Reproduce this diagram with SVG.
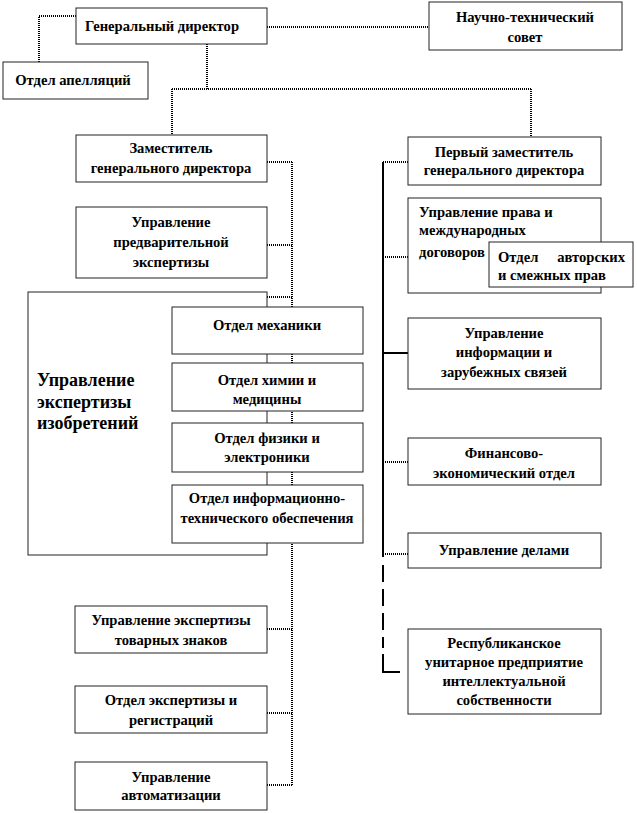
<svg xmlns="http://www.w3.org/2000/svg" width="637" height="813" viewBox="0 0 637 813">
<style>
.box{fill:#fff;stroke:#222;stroke-width:1}
.t{font-family:"Liberation Serif","Times New Roman",serif;font-weight:bold;font-size:14.6px;fill:#000;text-anchor:middle}
.tl{text-anchor:start}
.te{text-anchor:end}
.big{font-size:18px;text-anchor:start}
.dot{fill:none;stroke:#000;stroke-width:2;stroke-dasharray:1 1}
.sol{fill:none;stroke:#000;stroke-width:2}
.dash{fill:none;stroke:#000;stroke-width:2;stroke-dasharray:17 7}
</style>
<rect width="637" height="813" fill="#fff"/>
<g id="connectors">
<path class="dot" d="M76 16H39V62"/>
<path class="dot" d="M267 27H429"/>
<path class="dot" d="M207 44V89M172 89H531M172 89V135M531 89V137"/>
<path class="dot" d="M292 162V785M267 162H292M267 245H292M267 297H292M267 629H292M267 713H292M267 785H292"/>
<path class="sol" d="M383 162V557M383 353H408"/>
<path class="dot" d="M383 162H408M383 257H408M383 462H408M383 554H408"/>
<path class="dash" d="M383 565V648"/>
<path class="sol" d="M383 654V672H400"/>
</g>
<g id="nodes" font-family="Liberation Serif, Times New Roman, serif">
<g id="gen-director"><rect class="box" x="76" y="8" width="191" height="36"/><text class="t" x="162" y="31">Генеральный директор</text></g>
<g id="otdel-apellyaciy"><rect class="box" x="3" y="62" width="145" height="37"/><text class="t" x="73" y="85">Отдел апелляций</text></g>
<g id="nts"><rect class="box" x="429" y="2" width="193" height="48"/><text class="t" x="525" y="22">Научно-технический</text><text class="t" x="525" y="42">совет</text></g>
<g id="zamestitel"><rect class="box" x="76" y="135" width="191" height="47"/><text class="t" x="171" y="153">Заместитель</text><text class="t" x="171" y="173">генерального директора</text></g>
<g id="upr-predv"><rect class="box" x="76" y="207" width="191" height="71"/><text class="t" x="171" y="227">Управление</text><text class="t" x="171" y="247">предварительной</text><text class="t" x="171" y="267">экспертизы</text></g>
<g id="upr-izobr"><rect class="box" x="28" y="292" width="239" height="263"/><text class="t big" x="37" y="386">Управление</text><text class="t big" x="37" y="408">экспертизы</text><text class="t big" x="37" y="429">изобретений</text></g>
<g id="otdel-mehaniki"><rect class="box" x="172" y="307" width="191" height="47"/><text class="t" x="267" y="330">Отдел механики</text></g>
<g id="otdel-himii"><rect class="box" x="172" y="363" width="191" height="48"/><text class="t" x="267" y="385">Отдел химии и</text><text class="t" x="267" y="404">медицины</text></g>
<g id="otdel-fiziki"><rect class="box" x="172" y="423" width="191" height="49"/><text class="t" x="267" y="443">Отдел физики и</text><text class="t" x="267" y="462">электроники</text></g>
<g id="otdel-info"><rect class="box" x="172" y="485" width="191" height="58"/><text class="t" x="267" y="503">Отдел информационно-</text><text class="t" x="267" y="523">технического обеспечения</text></g>
<g id="upr-tovar"><rect class="box" x="75" y="606" width="192" height="47"/><text class="t" x="171" y="625">Управление экспертизы</text><text class="t" x="171" y="645">товарных знаков</text></g>
<g id="otdel-reg"><rect class="box" x="75" y="686" width="192" height="47"/><text class="t" x="171" y="705">Отдел экспертизы и</text><text class="t" x="171" y="725">регистраций</text></g>
<g id="upr-avto"><rect class="box" x="75" y="762" width="192" height="48"/><text class="t" x="171" y="782">Управление</text><text class="t" x="171" y="800">автоматизации</text></g>
<g id="perviy-zam"><rect class="box" x="408" y="137" width="193" height="48"/><text class="t" x="504" y="157">Первый заместитель</text><text class="t" x="504" y="175">генерального директора</text></g>
<g id="upr-prava"><rect class="box" x="408" y="198" width="193" height="95"/><text class="t tl" x="419" y="217">Управление права и</text><text class="t tl" x="419" y="235">международных</text><text class="t tl" x="419" y="257">договоров</text></g>
<g id="otdel-avtor"><rect class="box" x="489" y="242" width="144" height="45"/><text class="t tl" x="498" y="262">Отдел</text><text class="t te" x="625" y="262">авторских</text><text class="t tl" x="498" y="280">и смежных прав</text></g>
<g id="upr-info"><rect class="box" x="408" y="318" width="193" height="71"/><text class="t" x="504" y="338">Управление</text><text class="t" x="504" y="357">информации и</text><text class="t" x="504" y="377">зарубежных  связей</text></g>
<g id="fin-otdel"><rect class="box" x="408" y="438" width="193" height="47"/><text class="t" x="504" y="458">Финансово-</text><text class="t" x="504" y="478">экономический отдел</text></g>
<g id="upr-delami"><rect class="box" x="408" y="533" width="193" height="35"/><text class="t" x="504" y="555">Управление делами</text></g>
<g id="rup"><rect class="box" x="408" y="629" width="193" height="85"/><text class="t" x="504" y="648">Республиканское</text><text class="t" x="504" y="667">унитарное предприятие</text><text class="t" x="504" y="686">интеллектуальной</text><text class="t" x="504" y="705">собственности</text></g>
</g>
</svg>
